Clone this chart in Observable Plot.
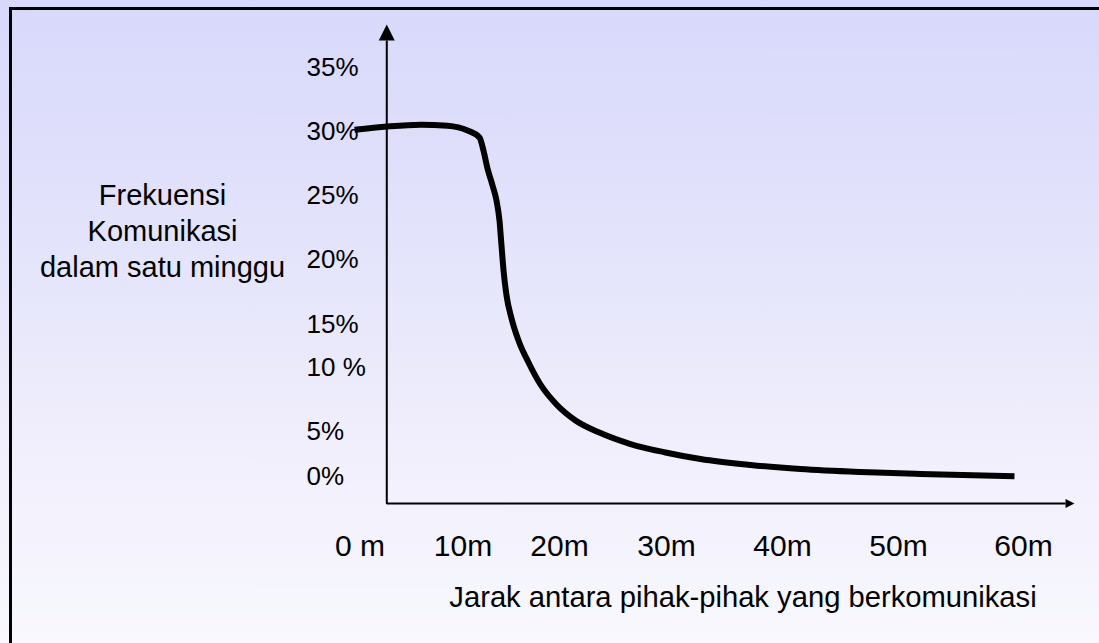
<!DOCTYPE html>
<html><head><meta charset="utf-8">
<script src="https://cdn.jsdelivr.net/npm/d3@7"></script>
<script src="https://cdn.jsdelivr.net/npm/@observablehq/plot@0.6"></script>
<style>
html,body{margin:0;padding:0;overflow:hidden;background:#f8f8fe;}
#wrap{position:relative;width:1099px;height:643px;overflow:hidden;
  background:linear-gradient(to bottom,#d8d8fb 0%,#e4e4fb 40%,#f1effc 70%,#f8f8fe 100%);}
#wrap svg{position:absolute;left:0;top:0;}
#border{position:absolute;left:9px;top:7px;width:1300px;height:900px;border:3px solid #000;box-sizing:border-box;pointer-events:none;}
</style></head><body>
<div id="wrap"><div id="border"></div></div>
<script>
// ---- data ----
const xTickValues = [0, 10, 20, 30, 40, 50, 60];
const xTickLabels = ["0 m", "10m", "20m", "30m", "40m", "50m", "60m"];
const yTickValues = [0, 5, 10, 15, 20, 25, 30, 35];
const yTickLabels = ["0%", "5%", "10 %", "15%", "20%", "25%", "30%", "35%"];
const distance  = [-0.53, 2.67, 5.87, 8.5, 10.47, 11.71, 12.12, 12.54, 13.06, 13.47, 13.78, 13.99, 14.2, 14.51, 15.03, 15.75, 16.79, 18.03, 19.69, 21.5, 23.83, 26.64, 29.91, 32.93, 37.24, 41.55, 46.72, 51.76, 59.28];
const frequency = [30.13, 30.39, 30.53, 30.45, 30.08, 29.53, 28.52, 27.11, 25.78, 24.61, 23.06, 21.12, 19.19, 17.25, 15.47, 13.14, 10.58, 8.67, 7.11, 5.86, 4.83, 3.61, 2.67, 1.94, 1.28, 0.83, 0.5, 0.28, 0.03];
const yTitle = "Frekuensi\nKomunikasi\ndalam satu minggu";
const xTitle = "Jarak antara pihak-pihak yang berkomunikasi";

// ---- layout ----
const xRange = [359.5, 462.5, 559, 666, 782, 898, 1023];
const yRange = [476, 431, 367, 324, 259.5, 195, 131, 67.5];
const axisX0 = 2.6, axisY0 = -3, axisYTop = 37.17, axisYTip = 38.43, axisXEnd = 63.36, axisXTip = 64.08;

const upArrow = {draw(ctx, size) { const r = Math.sqrt(size / Math.PI); ctx.moveTo(0, 0); ctx.lineTo(r / 2, r); ctx.lineTo(-r / 2, r); ctx.closePath(); }};
const rightArrow = {draw(ctx, size) { const r = Math.sqrt(size / Math.PI); ctx.moveTo(0, 0); ctx.lineTo(-r, r / 2); ctx.lineTo(-r, -r / 2); ctx.closePath(); }};

const font = "'Liberation Sans', Arial, Helvetica, sans-serif";

const plot = Plot.plot({
  width: 1099,
  height: 643,
  marginLeft: 306,
  marginRight: 0,
  marginTop: 0,
  marginBottom: 88,
  style: {background: "transparent", fontFamily: font, color: "black", overflow: "visible"},
  x: {type: "linear", domain: xTickValues, range: xRange, axis: null},
  y: {type: "linear", domain: yTickValues, range: yRange, axis: null},
  marks: [
    Plot.line([[axisX0, axisYTop], [axisX0, axisY0], [axisXEnd, axisY0]], {stroke: "black", strokeWidth: 2, strokeLinejoin: "miter", strokeLinecap: "butt"}),
    Plot.dot([[axisX0, axisYTip]], {symbol: upArrow, r: 16, fill: "black", stroke: "none"}),
    Plot.dot([[axisXTip, axisY0]], {symbol: rightArrow, r: 9, fill: "black", stroke: "none"}),
    Plot.line(distance, {x: distance, y: frequency, curve: "monotone-x", stroke: "black", strokeWidth: 6, strokeLinecap: "butt"}),
    Plot.text(yTickLabels, {y: yTickValues, text: d => d, frameAnchor: "left", textAnchor: "start", lineAnchor: "middle", fontSize: 26, fill: "black"}),
    Plot.text(xTickLabels, {x: xTickValues, text: d => d, frameAnchor: "bottom", lineAnchor: "bottom", fontSize: 30, fill: "black"}),
    Plot.text([yTitle], {text: d => d, frameAnchor: "left", textAnchor: "middle", lineAnchor: "bottom", lineHeight: 1.25, dx: -144, dy: -1, fontSize: 29, fill: "black"}),
    Plot.text([xTitle], {text: d => d, frameAnchor: "bottom", textAnchor: "middle", lineAnchor: "bottom", dx: 40, dy: 51, fontSize: 29.2, fill: "black"})
  ]
});
const wrap = document.getElementById("wrap");
wrap.insertBefore(plot, document.getElementById("border"));
</script>
</body></html>
